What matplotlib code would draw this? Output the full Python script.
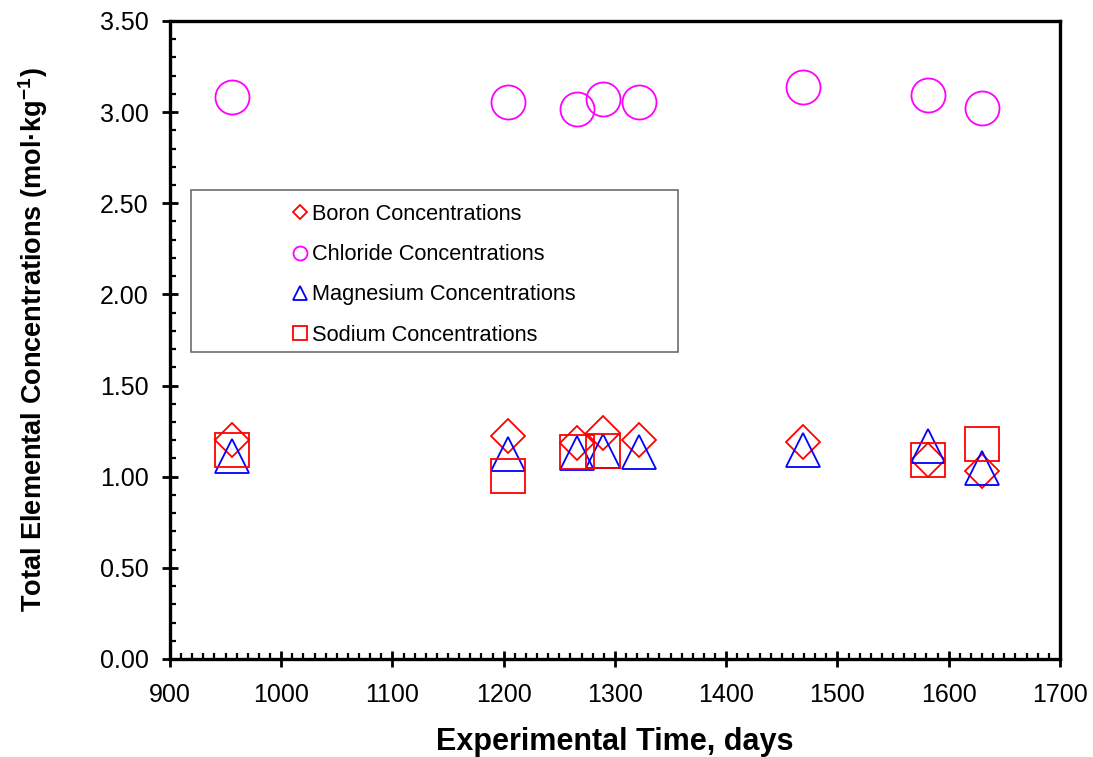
import numpy as np
import matplotlib
matplotlib.use("Agg")
import matplotlib.pyplot as plt
from matplotlib.patches import Rectangle
from matplotlib.ticker import MultipleLocator, FormatStrFormatter

plt.rcParams['font.family'] = ['Liberation Sans', 'DejaVu Sans']
plt.rcParams['mathtext.fontset'] = 'custom'
plt.rcParams['mathtext.rm'] = 'Liberation Sans'
plt.rcParams['mathtext.bf'] = 'Liberation Sans:bold'

days = [956, 1204, 1266, 1289, 1322, 1469, 1581, 1630]
boron = [1.201, 1.223, 1.183, 1.238, 1.199, 1.193, 1.093, 1.031]
chloride = [3.082, 3.055, 3.017, 3.071, 3.055, 3.138, 3.094, 3.025]
magnesium = [1.114, 1.126, 1.132, 1.140, 1.133, 1.148, 1.168, 1.050]
sodium = [1.146, 1.004, 1.133, 1.139, np.nan, np.nan, 1.094, 1.178]

fig = plt.figure(figsize=(10.93, 7.57), dpi=100)
ax = fig.add_axes([0.1555, 0.1295, 0.8143, 0.8428])

mk = dict(linestyle='none', markerfacecolor='none', markeredgewidth=1.3, zorder=3)
ax.plot(days, boron, marker='D', markersize=17, markeredgecolor='#FF0000',
        label='Boron Concentrations', **mk)
ax.plot(days, chloride, marker='o', markersize=24.5, markeredgecolor='#FF00FF',
        label='Chloride Concentrations', **mk)
ax.plot(days, magnesium, marker='^', markersize=24.5, markeredgecolor='#0000FF',
        label='Magnesium Concentrations', **mk)
ax.plot(days, sodium, marker='s', markersize=24.5, markeredgecolor='#FF0000',
        label='Sodium Concentrations', **mk)

ax.set_xlim(900, 1700)
ax.set_ylim(0, 3.5)
ax.xaxis.set_major_locator(MultipleLocator(100))
ax.xaxis.set_minor_locator(MultipleLocator(10))
ax.yaxis.set_major_locator(MultipleLocator(0.5))
ax.yaxis.set_minor_locator(MultipleLocator(0.1))
ax.yaxis.set_major_formatter(FormatStrFormatter('%.2f'))

for s in ax.spines.values():
    s.set_linewidth(2.4)
ax.tick_params(which='major', direction='inout', length=11, width=2, labelsize=18)
ax.tick_params(which='minor', direction='in', length=4, width=1.6)
ax.tick_params(axis='y', which='major', pad=10)
ax.tick_params(axis='x', which='major', pad=12)

ax.set_xlabel('Experimental Time, days', fontsize=22, fontweight='bold', labelpad=14)
ax.set_ylabel(r'Total Elemental Concentrations (mol·kg$^{\mathbf{-1}}$)',
              fontsize=19.5, fontweight='bold', labelpad=36)

# legend frame drawn separately so the box can be wider than the entries
ax.add_patch(Rectangle((0.0236, 0.481), 0.547, 0.254, transform=ax.transAxes,
                       facecolor='white', edgecolor='#606060', linewidth=1.1, zorder=2))
leg = ax.legend(loc='upper left', bbox_to_anchor=(0.139, 0.713), frameon=False,
                fontsize=15.7, markerscale=0.41, handlelength=0.62, handletextpad=0.2,
                labelspacing=0.88, borderpad=0, borderaxespad=0, numpoints=1)
leg.set_zorder(4)

fig.savefig('out.png', dpi=100)
